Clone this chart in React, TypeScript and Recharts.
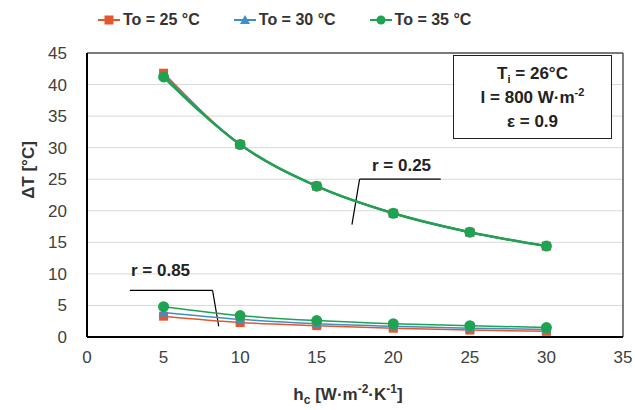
import React from 'react';
import { LineChart, Line, XAxis, YAxis, CartesianGrid, ReferenceLine } from 'recharts';

const hc = [5, 10, 15, 20, 25, 30];

// r = 0.25
const r25_To25 = [41.8, 30.5, 23.9, 19.6, 16.6, 14.4];
const r25_To30 = [41.5, 30.5, 23.9, 19.6, 16.6, 14.4];
const r25_To35 = [41.2, 30.5, 23.9, 19.6, 16.6, 14.4];

// r = 0.85
const r85_To25 = [3.3, 2.3, 1.8, 1.4, 1.1, 0.9];
const r85_To30 = [3.9, 2.8, 2.1, 1.7, 1.4, 1.2];
const r85_To35 = [4.8, 3.4, 2.6, 2.1, 1.8, 1.5];

const xTicks = [0, 5, 10, 15, 20, 25, 30, 35];
const yTicks = [0, 5, 10, 15, 20, 25, 30, 35, 40, 45];

const RED = '#E4572E';
const BLUE = '#3D8FC8';
const GREEN = '#1FA251';

const data = hc.map((x, i) => ({
    x,
    a25: r25_To25[i],
    a30: r25_To30[i],
    a35: r25_To35[i],
    b25: r85_To25[i],
    b30: r85_To30[i],
    b35: r85_To35[i],
}));

const Square = (color: string) => (props: any) => {
    const { cx, cy, index } = props;
    if (cx == null || cy == null) return <g key={index} />;
    return <rect key={index} x={cx - 4.5} y={cy - 4.5} width={9} height={9} fill={color} />;
};
const Triangle = (color: string) => (props: any) => {
    const { cx, cy, index } = props;
    if (cx == null || cy == null) return <g key={index} />;
    return <polygon key={index} points={`${cx},${cy - 5} ${cx + 5},${cy + 4} ${cx - 5},${cy + 4}`} fill={color} />;
};
const Circle = (color: string) => (props: any) => {
    const { cx, cy, index } = props;
    if (cx == null || cy == null) return <g key={index} />;
    return <circle key={index} cx={cx} cy={cy} r={5.5} fill={color} />;
};

const font = '"Liberation Sans", Arial, sans-serif';

function LegendItem({ color, shape, label }: { color: string; shape: string; label: string }) {
    return (
        <div style={{ display: 'flex', alignItems: 'center', marginRight: 34 }}>
            <svg width={22} height={12}>
                <line x1={0} y1={6} x2={22} y2={6} stroke={color} strokeWidth={2} />
                {shape === 'square' && <rect x={6.5} y={1.5} width={9} height={9} fill={color} />}
                {shape === 'triangle' && <polygon points="11,1 16,10 6,10" fill={color} />}
                {shape === 'circle' && <circle cx={11} cy={6} r={4.5} fill={color} />}
            </svg>
            <span style={{ marginLeft: 3 }}>{label}</span>
        </div>
    );
}

export default function App() {
    return (
        <div style={{ position: 'absolute', left: 0, top: 0, width: 635, height: 410, background: '#fff', fontFamily: font, color: '#333' }}>
            <LineChart width={635} height={410} data={data} margin={{ top: 53, right: 12, left: 20, bottom: 43 }}>
                <CartesianGrid vertical={false} stroke="#d9d9d9" />
                <XAxis
                    dataKey="x"
                    type="number"
                    domain={[0, 35]}
                    ticks={xTicks}
                    tickLine={false}
                    axisLine={{ stroke: '#000', strokeWidth: 2 }}
                    tick={{ fill: '#404040', fontSize: 17, fontFamily: font }}
                    tickMargin={8}
                    height={30}
                />
                <YAxis
                    type="number"
                    domain={[0, 45]}
                    ticks={yTicks}
                    tickLine={false}
                    axisLine={{ stroke: '#000', strokeWidth: 2 }}
                    tick={{ fill: '#404040', fontSize: 17, fontFamily: font }}
                    tickMargin={14}
                    width={67}
                />
                <ReferenceLine y={45} stroke="#555" strokeWidth={1.5} />
                <ReferenceLine x={35} stroke="#555" strokeWidth={1.5} />
                <ReferenceLine segment={[{ x: 23.1, y: 25.0 }, { x: 17.8, y: 25.0 }]} stroke="#000" strokeWidth={1.2} />
                <ReferenceLine segment={[{ x: 17.8, y: 25.0 }, { x: 17.3, y: 17.8 }]} stroke="#000" strokeWidth={1.2} />
                <ReferenceLine segment={[{ x: 2.8, y: 7.4 }, { x: 8.2, y: 7.4 }]} stroke="#000" strokeWidth={1.2} />
                <ReferenceLine segment={[{ x: 8.2, y: 7.4 }, { x: 8.6, y: 1.7 }]} stroke="#000" strokeWidth={1.2} />

                <Line type="monotone" dataKey="b25" stroke={RED} strokeWidth={1.5} dot={Square(RED)} isAnimationActive={false} />
                <Line type="monotone" dataKey="b30" stroke={BLUE} strokeWidth={1.5} dot={Triangle(BLUE)} isAnimationActive={false} />
                <Line type="monotone" dataKey="b35" stroke={GREEN} strokeWidth={1.5} dot={Circle(GREEN)} isAnimationActive={false} />
                <Line type="monotone" dataKey="a25" stroke={RED} strokeWidth={2} dot={Square(RED)} isAnimationActive={false} />
                <Line type="monotone" dataKey="a30" stroke={BLUE} strokeWidth={2} dot={Triangle(BLUE)} isAnimationActive={false} />
                <Line type="monotone" dataKey="a35" stroke={GREEN} strokeWidth={2.5} dot={Circle(GREEN)} isAnimationActive={false} />
            </LineChart>

            {/* legend */}
            <div style={{ position: 'absolute', top: 11, left: 98, display: 'flex', fontSize: 16, fontWeight: 'bold', color: '#333' }}>
                <LegendItem color={RED} shape="square" label="To = 25 °C" />
                <LegendItem color={BLUE} shape="triangle" label="To = 30 °C" />
                <LegendItem color={GREEN} shape="circle" label="To = 35 °C" />
            </div>

            {/* info box */}
            <div
                style={{
                    position: 'absolute',
                    left: 453,
                    top: 55,
                    width: 157,
                    height: 80,
                    border: '1.5px solid #222',
                    background: '#fff',
                    display: 'flex',
                    flexDirection: 'column',
                    alignItems: 'center',
                    justifyContent: 'center',
                    fontSize: 17,
                    fontWeight: 'bold',
                    lineHeight: '24px',
                    color: '#222',
                    paddingTop: 2,
                    boxSizing: 'content-box',
                }}
            >
                <div>
                    T<sub style={{ fontSize: 11, lineHeight: 0 }}>i</sub> = 26°C
                </div>
                <div>
                    I = 800 W·m<sup style={{ fontSize: 11, lineHeight: 0 }}>-2</sup>
                </div>
                <div>ε = 0.9</div>
            </div>

            {/* annotations */}
            <div style={{ position: 'absolute', left: 372, top: 156, fontSize: 17, fontWeight: 'bold', color: '#222' }}>r = 0.25</div>
            <div style={{ position: 'absolute', left: 131, top: 261, fontSize: 17, fontWeight: 'bold', color: '#222' }}>r = 0.85</div>

            {/* axis titles */}
            <div
                style={{
                    position: 'absolute',
                    left: 29,
                    top: 170,
                    transform: 'translate(-50%, -50%) rotate(-90deg)',
                    fontSize: 17,
                    fontWeight: 'bold',
                    whiteSpace: 'nowrap',
                    color: '#333',
                }}
            >
                ΔT [°C]
            </div>
            <div
                style={{
                    position: 'absolute',
                    left: 348,
                    top: 395,
                    transform: 'translate(-50%, -50%)',
                    fontSize: 17,
                    fontWeight: 'bold',
                    whiteSpace: 'nowrap',
                    color: '#333',
                }}
            >
                h<sub style={{ fontSize: 12, lineHeight: 0 }}>c</sub> [W·m<sup style={{ fontSize: 12, lineHeight: 0 }}>-2</sup>·K<sup style={{ fontSize: 12, lineHeight: 0 }}>-1</sup>]
            </div>
        </div>
    );
}
